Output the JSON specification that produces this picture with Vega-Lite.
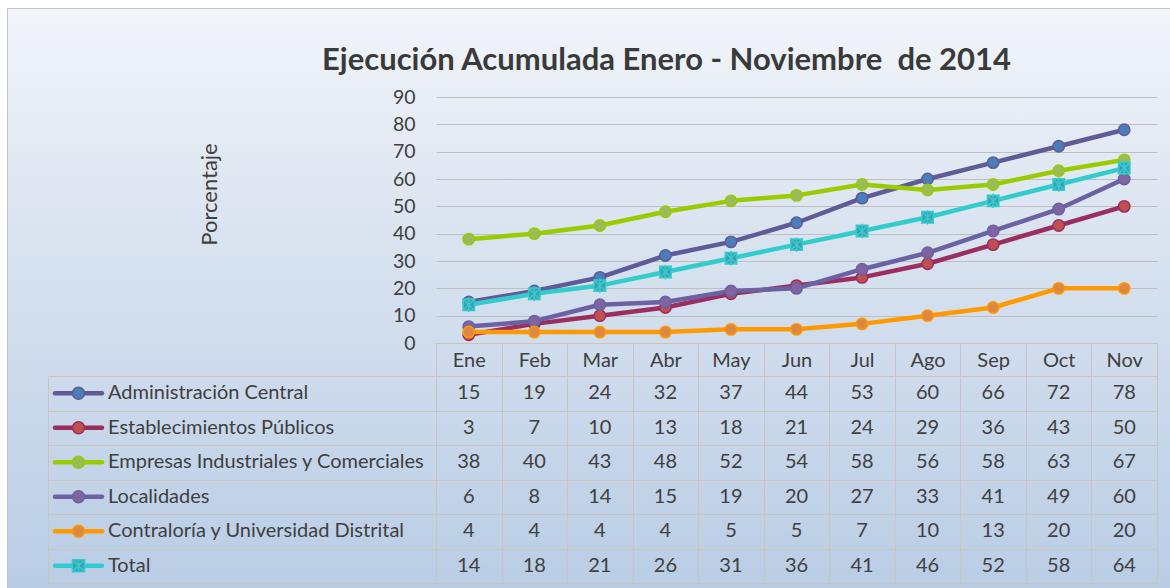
{
  "$schema": "https://vega.github.io/schema/vega-lite/v6.json",
  "width": 1163,
  "height": 580,
  "autosize": "none",
  "padding": {"left": 7, "top": 8, "right": 0, "bottom": 0},
  "background": "#FFFFFF",
  "view": {
    "fill": {"gradient": "linear", "x1": 0, "y1": 0, "x2": 0, "y2": 1,
      "stops": [{"offset": 0, "color": "#F2F5FA"}, {"offset": 0.35, "color": "#DCE5F1"}, {"offset": 1, "color": "#B9CDE5"}]},
    "stroke": "#C4C4C4",
    "strokeWidth": 1
  },
  "config": {"font": "Lato", "text": {"font": "Lato"}},
  "title": {
    "text": "Ejecución Acumulada Enero - Noviembre\u00a0 de 2014",
    "font": "Lato", "fontSize": 31, "fontWeight": "bold", "color": "#3A3A3A",
    "anchor": "start", "frame": "group", "dx": 315, "offset": 0, "dy": 93, "baseline": "alphabetic"
  },
  "data": {"values": [
    {"serie": "Administración Central", "mes": "Ene", "valor": 15},
    {"serie": "Administración Central", "mes": "Feb", "valor": 19},
    {"serie": "Administración Central", "mes": "Mar", "valor": 24},
    {"serie": "Administración Central", "mes": "Abr", "valor": 32},
    {"serie": "Administración Central", "mes": "May", "valor": 37},
    {"serie": "Administración Central", "mes": "Jun", "valor": 44},
    {"serie": "Administración Central", "mes": "Jul", "valor": 53},
    {"serie": "Administración Central", "mes": "Ago", "valor": 60},
    {"serie": "Administración Central", "mes": "Sep", "valor": 66},
    {"serie": "Administración Central", "mes": "Oct", "valor": 72},
    {"serie": "Administración Central", "mes": "Nov", "valor": 78},
    {"serie": "Establecimientos Públicos", "mes": "Ene", "valor": 3},
    {"serie": "Establecimientos Públicos", "mes": "Feb", "valor": 7},
    {"serie": "Establecimientos Públicos", "mes": "Mar", "valor": 10},
    {"serie": "Establecimientos Públicos", "mes": "Abr", "valor": 13},
    {"serie": "Establecimientos Públicos", "mes": "May", "valor": 18},
    {"serie": "Establecimientos Públicos", "mes": "Jun", "valor": 21},
    {"serie": "Establecimientos Públicos", "mes": "Jul", "valor": 24},
    {"serie": "Establecimientos Públicos", "mes": "Ago", "valor": 29},
    {"serie": "Establecimientos Públicos", "mes": "Sep", "valor": 36},
    {"serie": "Establecimientos Públicos", "mes": "Oct", "valor": 43},
    {"serie": "Establecimientos Públicos", "mes": "Nov", "valor": 50},
    {"serie": "Empresas Industriales y Comerciales", "mes": "Ene", "valor": 38},
    {"serie": "Empresas Industriales y Comerciales", "mes": "Feb", "valor": 40},
    {"serie": "Empresas Industriales y Comerciales", "mes": "Mar", "valor": 43},
    {"serie": "Empresas Industriales y Comerciales", "mes": "Abr", "valor": 48},
    {"serie": "Empresas Industriales y Comerciales", "mes": "May", "valor": 52},
    {"serie": "Empresas Industriales y Comerciales", "mes": "Jun", "valor": 54},
    {"serie": "Empresas Industriales y Comerciales", "mes": "Jul", "valor": 58},
    {"serie": "Empresas Industriales y Comerciales", "mes": "Ago", "valor": 56},
    {"serie": "Empresas Industriales y Comerciales", "mes": "Sep", "valor": 58},
    {"serie": "Empresas Industriales y Comerciales", "mes": "Oct", "valor": 63},
    {"serie": "Empresas Industriales y Comerciales", "mes": "Nov", "valor": 67},
    {"serie": "Localidades", "mes": "Ene", "valor": 6},
    {"serie": "Localidades", "mes": "Feb", "valor": 8},
    {"serie": "Localidades", "mes": "Mar", "valor": 14},
    {"serie": "Localidades", "mes": "Abr", "valor": 15},
    {"serie": "Localidades", "mes": "May", "valor": 19},
    {"serie": "Localidades", "mes": "Jun", "valor": 20},
    {"serie": "Localidades", "mes": "Jul", "valor": 27},
    {"serie": "Localidades", "mes": "Ago", "valor": 33},
    {"serie": "Localidades", "mes": "Sep", "valor": 41},
    {"serie": "Localidades", "mes": "Oct", "valor": 49},
    {"serie": "Localidades", "mes": "Nov", "valor": 60},
    {"serie": "Contraloría y Universidad Distrital", "mes": "Ene", "valor": 4},
    {"serie": "Contraloría y Universidad Distrital", "mes": "Feb", "valor": 4},
    {"serie": "Contraloría y Universidad Distrital", "mes": "Mar", "valor": 4},
    {"serie": "Contraloría y Universidad Distrital", "mes": "Abr", "valor": 4},
    {"serie": "Contraloría y Universidad Distrital", "mes": "May", "valor": 5},
    {"serie": "Contraloría y Universidad Distrital", "mes": "Jun", "valor": 5},
    {"serie": "Contraloría y Universidad Distrital", "mes": "Jul", "valor": 7},
    {"serie": "Contraloría y Universidad Distrital", "mes": "Ago", "valor": 10},
    {"serie": "Contraloría y Universidad Distrital", "mes": "Sep", "valor": 13},
    {"serie": "Contraloría y Universidad Distrital", "mes": "Oct", "valor": 20},
    {"serie": "Contraloría y Universidad Distrital", "mes": "Nov", "valor": 20},
    {"serie": "Total", "mes": "Ene", "valor": 14},
    {"serie": "Total", "mes": "Feb", "valor": 18},
    {"serie": "Total", "mes": "Mar", "valor": 21},
    {"serie": "Total", "mes": "Abr", "valor": 26},
    {"serie": "Total", "mes": "May", "valor": 31},
    {"serie": "Total", "mes": "Jun", "valor": 36},
    {"serie": "Total", "mes": "Jul", "valor": 41},
    {"serie": "Total", "mes": "Ago", "valor": 46},
    {"serie": "Total", "mes": "Sep", "valor": 52},
    {"serie": "Total", "mes": "Oct", "valor": 58},
    {"serie": "Total", "mes": "Nov", "valor": 64}
  ]},
  "resolve": {"scale": {"x": "independent", "y": "independent", "stroke": "independent", "fill": "independent", "shape": "independent", "size": "independent"}, "axis": {"x": "independent", "y": "independent"}},
  "layer": [
    {
      "layer": [
        {
          "mark": {"type": "line", "strokeWidth": 4.5, "strokeCap": "round", "strokeJoin": "round"},
          "encoding": {
            "x": {"field": "mes", "type": "ordinal", "sort": ["Ene","Feb","Mar","Abr","May","Jun","Jul","Ago","Sep","Oct","Nov"],
              "scale": {"type": "band", "domain": ["Ene","Feb","Mar","Abr","May","Jun","Jul","Ago","Sep","Oct","Nov"], "range": [429, 1150], "paddingInner": 0, "paddingOuter": 0},
              "axis": {"orient": "bottom", "offset": -245, "title": null, "tickBand": "extent", "tickSize": 240, "tickColor": "#CBC4BA", "tickWidth": 1,
                "domainColor": "#CBC4BA", "domainWidth": 1, "labelAngle": 0, "labelPadding": -223, "labelBaseline": "middle",
                "labelFontSize": 20, "labelColor": "#404040", "labelFont": "Lato", "grid": false}},
            "y": {"field": "valor", "type": "quantitative",
              "scale": {"domain": [0, 90], "range": [335, 89], "nice": false},
              "axis": {"orient": "left", "offset": -429, "values": [0,10,20,30,40,50,60,70,80,90], "ticks": false, "domain": false,
                "labelPadding": 21, "labelFontSize": 19.5, "labelColor": "#404040", "labelFont": "Lato",
                "grid": true, "gridColor": "#BFBFBF", "gridWidth": 1,
                "title": "Porcentaje", "titleFont": "Lato", "titleFontSize": 22, "titleFontWeight": "normal", "titleColor": "#404040",
                "titleAngle": -90, "titleX": -227, "titleY": 186, "titleAlign": "center", "titleBaseline": "middle"}},
            "stroke": {"field": "serie", "type": "nominal",
              "scale": {"domain": ["Administración Central","Establecimientos Públicos","Empresas Industriales y Comerciales","Localidades","Contraloría y Universidad Distrital","Total"],
                "range": ["#5F5B97","#9B2D5F","#99CC00","#6B61A3","#FF9900","#33CCCC"]}, "legend": null}
          }
        },
        {
          "mark": {"type": "point", "filled": true, "opacity": 1, "strokeWidth": 1.5},
          "encoding": {
            "x": {"field": "mes", "type": "ordinal"},
            "y": {"field": "valor", "type": "quantitative"},
            "stroke": {"field": "serie", "type": "nominal", "legend": null},
            "fill": {"field": "serie", "type": "nominal",
              "scale": {"domain": ["Administración Central","Establecimientos Públicos","Empresas Industriales y Comerciales","Localidades","Contraloría y Universidad Distrital","Total"],
                "range": ["#4A7EBB","#C0504D","#9BBB59","#8064A2","#DE8744","#409DB4"]}, "legend": null},
            "shape": {"field": "serie", "type": "nominal",
              "scale": {"domain": ["Administración Central","Establecimientos Públicos","Empresas Industriales y Comerciales","Localidades","Contraloría y Universidad Distrital","Total"],
                "range": ["circle","circle","circle","circle","circle","square"]}, "legend": null},
            "size": {"field": "serie", "type": "nominal",
              "scale": {"domain": ["Administración Central","Establecimientos Públicos","Empresas Industriales y Comerciales","Localidades","Contraloría y Universidad Distrital","Total"],
                "range": [130,130,130,130,210,289]}, "legend": null}
          }
        },
        {
          "transform": [{"filter": "datum.serie === 'Total'"}],
          "mark": {"type": "point", "filled": false, "shape": "M-0.7,-0.7L0.7,0.7M-0.7,0.7L0.7,-0.7M0,-0.85L0,0.85", "size": 289, "stroke": "#33CCCC", "strokeWidth": 1.5, "opacity": 1},
          "encoding": {
            "x": {"field": "mes", "type": "ordinal"},
            "y": {"field": "valor", "type": "quantitative"}
          }
        }
      ]
    },
    {
      "mark": {"type": "text", "fontSize": 20, "color": "#404040", "font": "Lato", "baseline": "middle", "align": "center"},
      "encoding": {
        "x": {"field": "mes", "type": "ordinal",
          "scale": {"type": "band", "domain": ["Ene","Feb","Mar","Abr","May","Jun","Jul","Ago","Sep","Oct","Nov"], "range": [429, 1150], "paddingInner": 0, "paddingOuter": 0},
          "axis": null},
        "y": {"field": "serie", "type": "nominal",
          "scale": {"type": "band", "domain": ["Administración Central","Establecimientos Públicos","Empresas Industriales y Comerciales","Localidades","Contraloría y Universidad Distrital","Total"], "range": [368, 575], "paddingInner": 0, "paddingOuter": 0},
          "axis": {"orient": "left", "offset": -41, "title": null, "labels": false, "tickBand": "extent", "tickSize": -1109, "tickColor": "#CBC4BA", "tickWidth": 1,
            "domainColor": "#CBC4BA", "domainWidth": 1, "grid": false}},
        "text": {"field": "valor", "type": "quantitative"}
      }
    },
    {
      "transform": [{"filter": "datum.mes === 'Ene'"}],
      "encoding": {
        "y": {"field": "serie", "type": "nominal",
          "scale": {"type": "band", "domain": ["Administración Central","Establecimientos Públicos","Empresas Industriales y Comerciales","Localidades","Contraloría y Universidad Distrital","Total"], "range": [368, 575], "paddingInner": 0, "paddingOuter": 0},
          "axis": null}
      },
      "layer": [
        {
          "mark": {"type": "rule", "strokeWidth": 4.5, "strokeCap": "round"},
          "encoding": {
            "x": {"datum": 0, "type": "quantitative", "scale": {"domain": [0, 1], "range": [48, 95]}, "axis": null},
            "x2": {"datum": 1},
            "stroke": {"field": "serie", "type": "nominal",
              "scale": {"domain": ["Administración Central","Establecimientos Públicos","Empresas Industriales y Comerciales","Localidades","Contraloría y Universidad Distrital","Total"],
                "range": ["#5F5B97","#9B2D5F","#99CC00","#6B61A3","#FF9900","#33CCCC"]}, "legend": null}
          }
        },
        {
          "mark": {"type": "point", "filled": true, "opacity": 1, "strokeWidth": 1.5},
          "encoding": {
            "x": {"datum": 0.5, "type": "quantitative"},
            "stroke": {"field": "serie", "type": "nominal", "legend": null},
            "fill": {"field": "serie", "type": "nominal",
              "scale": {"domain": ["Administración Central","Establecimientos Públicos","Empresas Industriales y Comerciales","Localidades","Contraloría y Universidad Distrital","Total"],
                "range": ["#4A7EBB","#C0504D","#9BBB59","#8064A2","#DE8744","#409DB4"]}, "legend": null},
            "shape": {"field": "serie", "type": "nominal",
              "scale": {"domain": ["Administración Central","Establecimientos Públicos","Empresas Industriales y Comerciales","Localidades","Contraloría y Universidad Distrital","Total"],
                "range": ["circle","circle","circle","circle","circle","square"]}, "legend": null},
            "size": {"field": "serie", "type": "nominal",
              "scale": {"domain": ["Administración Central","Establecimientos Públicos","Empresas Industriales y Comerciales","Localidades","Contraloría y Universidad Distrital","Total"],
                "range": [144,144,144,144,169,196]}, "legend": null}
          }
        },
        {
          "transform": [{"filter": "datum.serie === 'Total'"}],
          "mark": {"type": "point", "filled": false, "shape": "M-0.7,-0.7L0.7,0.7M-0.7,0.7L0.7,-0.7M0,-0.85L0,0.85", "size": 196, "stroke": "#33CCCC", "strokeWidth": 1.5, "opacity": 1},
          "encoding": {"x": {"datum": 0.5, "type": "quantitative"}}
        },
        {
          "mark": {"type": "text", "fontSize": 20, "color": "#404040", "font": "Lato", "align": "left", "baseline": "middle", "dx": 6},
          "encoding": {
            "x": {"datum": 1, "type": "quantitative"},
            "text": {"field": "serie", "type": "nominal"}
          }
        }
      ]
    }
  ]
}
